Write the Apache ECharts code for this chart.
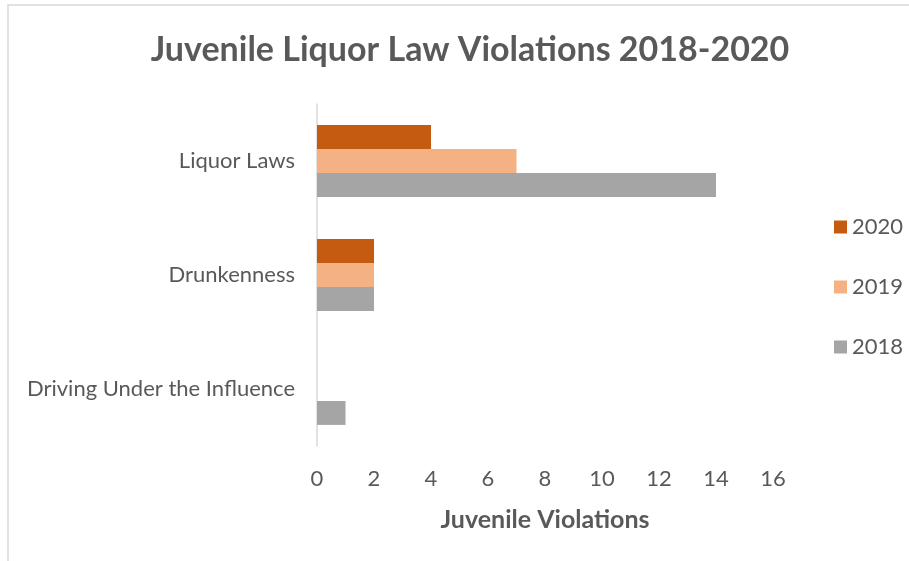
<!DOCTYPE html>
<html>
<head>
<meta charset="utf-8">
<script src="https://cdn.jsdelivr.net/npm/echarts@6/dist/echarts.min.js"></script>
<style>
  html, body { margin: 0; padding: 0; background: #ffffff; }
  #chart { width: 909px; height: 561px; }
</style>
</head>
<body>
<div id="chart"></div>
<script>
// Offense categories, listed bottom to top along the vertical axis
const categories = ['Driving Under the Influence', 'Drunkenness', 'Liquor Laws'];

// Juvenile violations per year, same order as categories
const values2018 = [1, 2, 14];
const values2019 = [0, 2, 7];
const values2020 = [0, 2, 4];

const years = ['2020', '2019', '2018'];
const xTicks = { min: 0, max: 16, interval: 2 };

const textColor = '#595959';
const fontFamily = 'Lato, "Open Sans", sans-serif';

const chart = echarts.init(document.getElementById('chart'), null, { renderer: 'canvas' });

const barCommon = { type: 'bar', barGap: '0%', barCategoryGap: '37%' };

chart.setOption({
  backgroundColor: '#ffffff',
  animation: false,
  textStyle: { fontFamily: fontFamily, color: textColor },
  title: {
    text: 'Juvenile Liquor Law Violations 2018-2020',
    left: 465,
    top: 28,
    textAlign: 'center',
    textStyle: { fontFamily: fontFamily, fontSize: 34, fontWeight: 'bold', color: textColor }
  },
  graphic: [{
    type: 'rect',
    shape: { x: 8, y: 5, width: 1200, height: 1200 },
    style: { fill: 'none', stroke: '#D9D9D9', lineWidth: 1.5 },
    silent: true,
    z: -1
  }],
  legend: {
    orient: 'vertical',
    left: 829,
    top: 211,
    data: years,
    itemWidth: 13,
    itemHeight: 13,
    itemGap: 38,
    icon: 'rect',
    textStyle: { fontFamily: fontFamily, fontSize: 22, color: textColor }
  },
  grid: { left: 317, right: 136, top: 104, bottom: 115, containLabel: false },
  xAxis: {
    type: 'value',
    min: xTicks.min,
    max: xTicks.max,
    interval: xTicks.interval,
    name: 'Juvenile Violations',
    nameLocation: 'middle',
    nameGap: 61,
    nameTextStyle: { fontFamily: fontFamily, fontSize: 25, fontWeight: 'bold', color: textColor },
    axisLine: { show: false },
    axisTick: { show: false },
    splitLine: { show: false },
    axisLabel: { fontFamily: fontFamily, fontSize: 22, color: textColor, margin: 22 }
  },
  yAxis: {
    type: 'category',
    data: categories,
    axisLine: { show: true, lineStyle: { color: '#D9D9D9', width: 1.5 } },
    axisTick: { show: false },
    axisLabel: { fontFamily: fontFamily, fontSize: 22, color: textColor, margin: 22 }
  },
  // Series listed 2020 first so that each group stacks 2020 on top, 2018 at the bottom
  series: [
    Object.assign({ name: '2020', data: values2020, itemStyle: { color: '#C55A11' } }, barCommon),
    Object.assign({ name: '2019', data: values2019, itemStyle: { color: '#F4B183' } }, barCommon),
    Object.assign({ name: '2018', data: values2018, itemStyle: { color: '#A5A5A5' } }, barCommon)
  ]
});
</script>
</body>
</html>
